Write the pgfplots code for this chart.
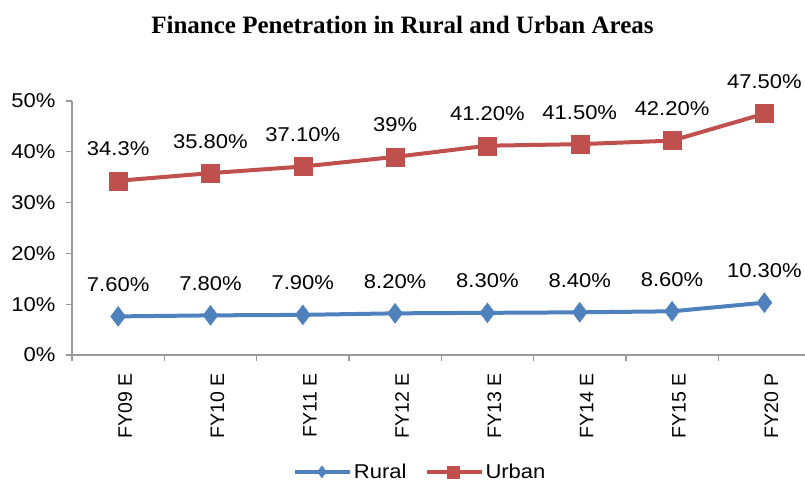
\documentclass[border=0pt]{standalone}
\usepackage{fontspec}
\setmainfont{Liberation Sans}[FakeStretch=1.1]
\newfontfamily\plainsans{Liberation Sans}
\newfontfamily\titlefont{Liberation Serif}
\usepackage{pgfplots}
\pgfplotsset{compat=1.18}
\definecolor{rural}{HTML}{4F81BD}
\definecolor{urban}{HTML}{C0504D}
\definecolor{axgray}{HTML}{9A9A9A}
\begin{document}
\begin{tikzpicture}
\useasboundingbox (-72pt,-129pt) rectangle (733pt,355pt);
\begin{axis}[
  at={(0pt,0pt)}, anchor=south west,
  scale only axis, width=733pt, height=254pt,
  xmin=-0.5, xmax=7.44, ymin=0, ymax=50,
  clip=false,
  axis lines*=left,
  axis line style={axgray, line width=1.2pt, -},
  tick align=outside,
  major tick length=6pt, minor tick length=6pt,
  tick style={axgray, line width=1.2pt},
  xtick={0,...,7},
  xticklabels={FY09 E,FY10 E,FY11 E,FY12 E,FY13 E,FY14 E,FY15 E,FY20 P},
  major x tick style={draw=none},
  minor xtick={-0.5,0.5,...,6.5},
  x tick label style={rotate=90, anchor=east, font=\plainsans\fontsize{19.5}{23}\selectfont, xshift=-9pt, yshift=-7pt},
  ytick={0,10,...,50},
  yticklabel={\pgfmathprintnumber{\tick}\%},
  y tick label style={font=\fontsize{20}{24}\selectfont, xshift=-7pt},
  /pgf/number format/assume math mode=true,
  every node near coord/.append style={text=black, font=\fontsize{20}{24}\selectfont, anchor=center, yshift=32pt},
  legend style={at={(0.475,-0.46)}, anchor=center, draw=none, legend columns=2,
    font=\fontsize{20}{24}\selectfont, inner sep=1pt,
    /tikz/every even column/.append style={column sep=16pt}},
  legend image code/.code={\draw[mark repeat=2,mark phase=2,mark size=6pt] plot coordinates {(0pt,0pt) (27pt,0pt) (55pt,0pt)};},
]
\addplot[rural, line width=4pt, mark=diamond*, mark size=10pt, mark options={solid, line width=0.4pt},
  nodes near coords, point meta=explicit symbolic] coordinates {
  (0,7.6) [7.60\%]
  (1,7.8) [7.80\%]
  (2,7.9) [7.90\%]
  (3,8.2) [8.20\%]
  (4,8.3) [8.30\%]
  (5,8.4) [8.40\%]
  (6,8.6) [8.60\%]
  (7,10.3) [10.30\%]
};
\addlegendentry{Rural}
\addplot[urban, line width=4pt, mark=square*, mark size=9pt, mark options={solid, line width=0.4pt},
  nodes near coords, point meta=explicit symbolic] coordinates {
  (0,34.3) [34.3\%]
  (1,35.8) [35.80\%]
  (2,37.1) [37.10\%]
  (3,39) [39\%]
  (4,41.2) [41.20\%]
  (5,41.5) [41.50\%]
  (6,42.2) [42.20\%]
  (7,47.5) [47.50\%]
};
\addlegendentry{Urban}
\end{axis}
\node[font=\titlefont\bfseries\fontsize{25}{29}\selectfont] at (330.5pt,330pt) {Finance Penetration in Rural and Urban Areas};
\end{tikzpicture}
\end{document}
